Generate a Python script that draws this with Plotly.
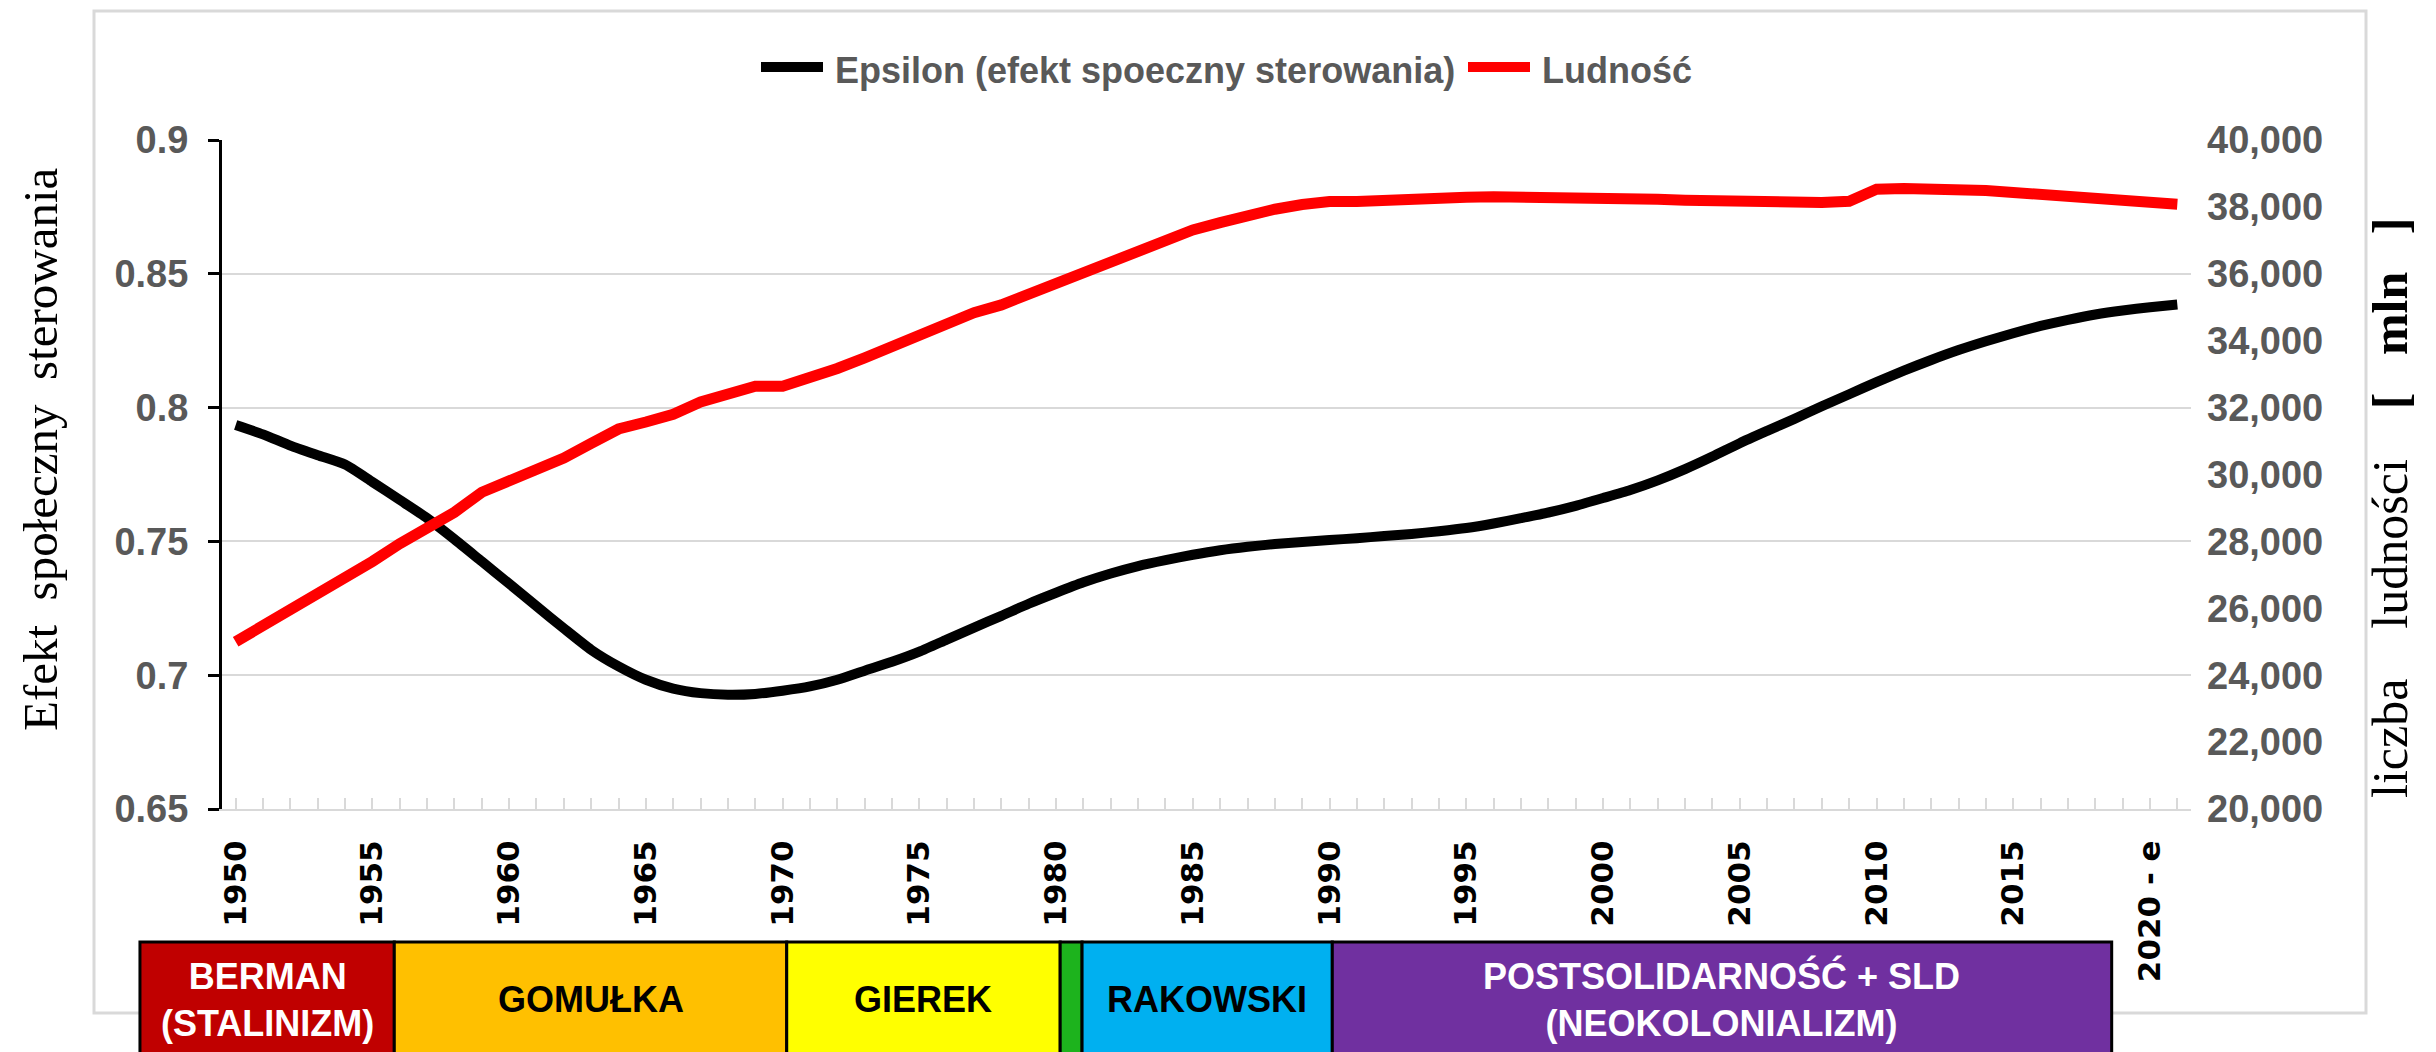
import plotly.graph_objects as go

# ---- data ----
years = list(range(1950, 2022))

epsilon = [
    0.7935, 0.7900, 0.7858, 0.7822, 0.7787, 0.7722, 0.7655, 0.7587, 0.7508, 0.7425,
    0.7342, 0.7258, 0.7175, 0.7095, 0.7033, 0.6983, 0.6950, 0.6933, 0.6927, 0.6930,
    0.6942, 0.6958, 0.6983, 0.7017, 0.7050, 0.7088, 0.7133, 0.7178, 0.7222, 0.7267,
    0.7308, 0.7347, 0.7380, 0.7408, 0.7430, 0.7450, 0.7467, 0.7480, 0.7490, 0.7498,
    0.7505, 0.7512, 0.7520, 0.7528, 0.7538, 0.7550, 0.7567, 0.7587, 0.7608, 0.7633,
    0.7662, 0.7692, 0.7728, 0.7770, 0.7817, 0.7867, 0.7913, 0.7958, 0.8005, 0.8050,
    0.8095, 0.8138, 0.8178, 0.8215, 0.8248, 0.8278, 0.8305, 0.8328, 0.8348, 0.8363,
    0.8375, 0.8385,
]

ludnosc = [
    25000, 25470, 25930, 26400, 26870, 27400, 27930, 28400, 28870, 29470,
    29800, 30130, 30490, 30930, 31360, 31570, 31800, 32170, 32370, 32640,
    32640, 32890, 33170, 33490, 33830, 34160, 34490, 34840, 35070, 35400,
    35710, 36040, 36370, 36710, 37030, 37310, 37530, 37770, 37930, 38070,
    38160, 38160, 38210, 38240, 38270, 38290, 38300, 38300, 38300, 38270,
    38250, 38240, 38230, 38200, 38180, 38170, 38150, 38120, 38130, 38170,
    38530, 38550, 38550, 38510, 38490, 38430, 38370, 38320, 38270, 38210,
    38160, 38080,
]

tick_years = [1950, 1955, 1960, 1965, 1970, 1975, 1980, 1985, 1990, 1995,
              2000, 2005, 2010, 2015, 2020]
tick_text = ["1950", "1955", "1960", "1965", "1970", "1975", "1980", "1985", "1990",
             "1995", "2000", "2005", "2010", "2015", "2020 - e"]

era_labels = ["BERMAN<br>(STALINIZM)", "GOMUŁKA", "GIEREK", "", "RAKOWSKI",
              "POSTSOLIDARNOŚĆ + SLD<br>(NEOKOLONIALIZM)"]
era_start = [1946.5, 1955.8, 1970.15, 1980.15, 1980.95, 1990.1]
era_end = [1955.8, 1970.15, 1980.15, 1980.95, 1990.1, 2018.6]
era_fill = ["#C00000", "#FFC000", "#FFFF00", "#1DB31D", "#00B0F0", "#7030A0"]
era_font = ["white", "black", "black", "black", "black", "white"]

series_names = ["Epsilon (efekt spoeczny sterowania)", "Ludność"]
series_colors = ["black", "#FF0000"]

# ---- geometry, in pixels of the 2436x1052 window ----
# the html body has an 8px margin, so the figure starts at (8, 8)
OFF = 8
W, H = 2436, 1052
PL, PR, PT, PB = 222, 2191, 140, 809
X_RANGE = [1949.5, 2021.5]


def px(x):
    return (x - PL) / (PR - PL)


def py(y):
    return (PB - y) / (PB - PT)


def yr(v):
    return (v - X_RANGE[0]) / (X_RANGE[1] - X_RANGE[0])


SANS = "Liberation Sans, Arial, sans-serif"
SERIF = "Liberation Serif, Times New Roman, serif"
GRAY = "#595959"
GRID = "#d9d9d9"

fig = go.Figure()
fig.add_trace(go.Scatter(
    x=years, y=epsilon, name=series_names[0], mode="lines",
    line=dict(color=series_colors[0], width=10, shape="spline", smoothing=0.6),
))
fig.add_trace(go.Scatter(
    x=years, y=ludnosc, name=series_names[1], mode="lines", yaxis="y2",
    line=dict(color=series_colors[1], width=11),
))

shapes = [dict(type="rect", xref="paper", yref="paper",
               x0=px(94), x1=px(2366), y0=py(1013), y1=py(11),
               line=dict(color=GRID, width=3), layer="below")]
annotations = [
    dict(text="Efekt  społeczny  sterowania", x=px(40), y=py(449), xref="paper", yref="paper",
         xanchor="center", yanchor="middle", textangle=-90, showarrow=False,
         font=dict(family=SERIF, size=49, color="black")),
    dict(text="liczba    ludności    <b>[   mln   ]</b>", x=px(2390), y=py(508),
         xref="paper", yref="paper", xanchor="center", yanchor="middle",
         textangle=-90, showarrow=False, font=dict(family=SERIF, size=50, color="black")),
]

# legend drawn by hand: Excel's keys are longer than plotly's
legend_key_x = [761, 1468]
for name, col, kx in zip(series_names, series_colors, legend_key_x):
    shapes.append(dict(type="line", xref="paper", yref="paper",
                       x0=px(kx), x1=px(kx + 62), y0=py(67), y1=py(67),
                       line=dict(color=col, width=10)))
    annotations.append(dict(text=name, x=px(kx + 72), y=py(70), xref="paper", yref="paper",
                            xanchor="left", yanchor="middle", showarrow=False,
                            font=dict(family=SANS, size=36, color=GRAY, weight="bold")))

for lab, s, e, fc, tc in zip(era_labels, era_start, era_end, era_fill, era_font):
    shapes.append(dict(type="rect", xref="paper", yref="paper",
                       x0=yr(s), x1=yr(e), y0=py(1080), y1=py(942),
                       fillcolor=fc, line=dict(color="black", width=3)))
    if lab:
        annotations.append(dict(text=lab, x=(yr(s) + yr(e)) / 2, y=py(1000),
                                xref="paper", yref="paper", showarrow=False,
                                xanchor="center", yanchor="middle",
                                font=dict(family=SANS, size=36, color=tc, weight="bold")))

fig.update_layout(
    width=W - OFF, height=H - OFF,
    margin=dict(l=PL - OFF, r=W - PR, t=PT - OFF, b=H - PB, autoexpand=False),
    paper_bgcolor="white", plot_bgcolor="white",
    showlegend=False,
    xaxis=dict(
        range=X_RANGE, tickmode="array", tickvals=tick_years, ticktext=tick_text,
        tickangle=-90, tickfont=dict(family="DejaVu Sans", size=31, color="black", weight="bold"),
        ticks="inside", ticklen=11, tickwidth=2, tickcolor=GRID,
        minor=dict(tickmode="linear", tick0=1950, dtick=1, ticks="inside", ticklen=11,
                   tickwidth=2, tickcolor=GRID),
        showline=True, linecolor=GRID, linewidth=2, showgrid=False, zeroline=False,
        ticklabelstandoff=17, automargin=False,
    ),
    yaxis=dict(
        range=[0.65, 0.9], tick0=0.65, dtick=0.05,
        showgrid=True, gridcolor=GRID, gridwidth=2,
        showline=True, linecolor="black", linewidth=3,
        ticks="outside", ticklen=11, tickwidth=3, tickcolor="black",
        tickfont=dict(family=SANS, size=38, color=GRAY, weight="bold"),
        zeroline=False, ticklabelstandoff=12, automargin=False,
    ),
    yaxis2=dict(
        overlaying="y", side="right", range=[20000, 40000], tick0=20000, dtick=2000,
        tickformat=",d", showgrid=False, showline=False, ticks="", zeroline=False,
        tickfont=dict(family=SANS, size=38, color=GRAY, weight="bold"),
        ticklabelstandoff=15, automargin=False,
    ),
    shapes=shapes,
    annotations=annotations,
)

fig.write_html("out.html")
